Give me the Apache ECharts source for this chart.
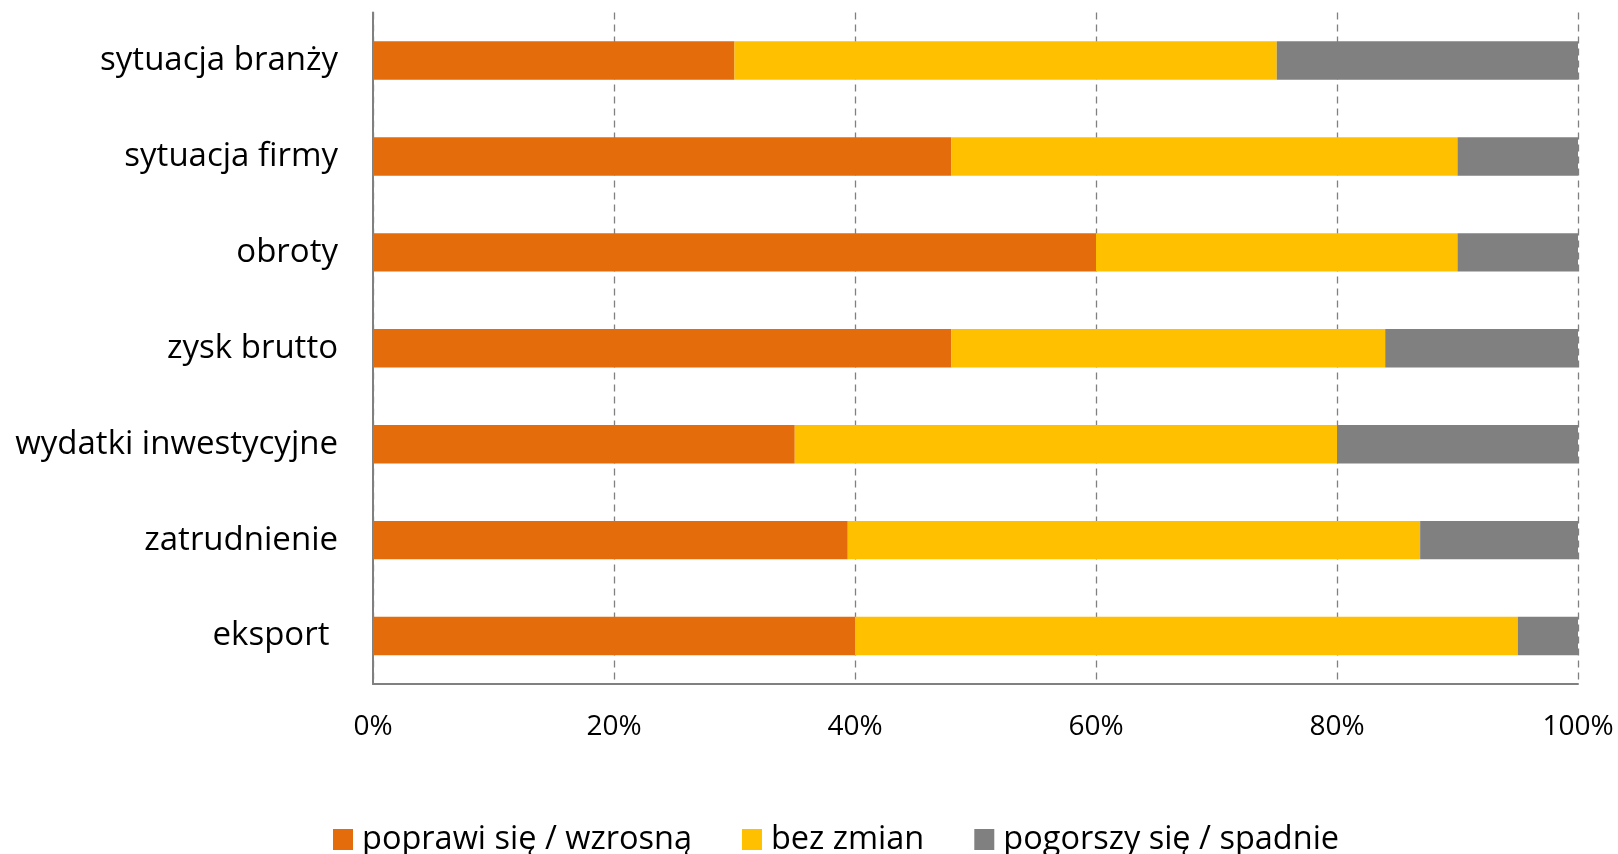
<!DOCTYPE html>
<html>
<head>
<meta charset="utf-8">
<script src="https://cdn.jsdelivr.net/npm/echarts@6/dist/echarts.min.js"></script>
<style>
html,body{margin:0;padding:0;background:#fff;}
#chart{width:1618px;height:854px;}
</style>
</head>
<body>
<div id="chart"></div>
<script>
const categories = ["sytuacja branży","sytuacja firmy","obroty","zysk brutto","wydatki inwestycyjne","zatrudnienie","eksport "];
const seriesNames = ["poprawi się / wzrosną","bez zmian","pogorszy się / spadnie"];
const improve = [30, 48, 60, 48, 35, 39.4, 40];
const noChange = [45, 42, 30, 36, 45, 47.5, 55];
const worsen = [25, 10, 10, 16, 20, 13.1, 5];
const colors = ["#E46C0A", "#FFC000", "#808080"];

const chart = echarts.init(document.getElementById('chart'));
const font = "'Open Sans', 'Noto Sans', sans-serif";
const mk = (name, data, color) => ({
  name, type: 'bar', stack: 'total', data,
  barCategoryGap: '60%',
  itemStyle: { color },
  emphasis: { disabled: true }
});
chart.setOption({
  animation: false,
  textStyle: { fontFamily: font },
  grid: { left: 373, right: 40, top: 12.6, bottom: 170, containLabel: false },
  xAxis: {
    type: 'value', min: 0, max: 100, interval: 20,
    axisLabel: { formatter: v => v + '%', fontSize: 28, color: '#000', margin: 29, fontFamily: font },
    axisLine: { show: true, lineStyle: { color: '#808080', width: 2 } },
    axisTick: { show: false },
    splitLine: { show: true, lineStyle: { color: '#808080', type: [7, 5], width: 1.3 } }
  },
  yAxis: {
    type: 'category', data: categories, inverse: true,
    axisLabel: { fontSize: 33, color: '#000', margin: 35, fontFamily: font },
    axisLine: { show: true, lineStyle: { color: '#808080', width: 2 } },
    axisTick: { show: false },
    splitLine: { show: false }
  },
  legend: {
    data: seriesNames,
    left: 328, top: 818,
    itemWidth: 20, itemHeight: 21, itemGap: 50,
    icon: 'rect',
    textStyle: { fontSize: 32.5, color: '#000', fontFamily: font, padding: [0,0,0,4] }
  },
  series: [
    mk(seriesNames[0], improve, colors[0]),
    mk(seriesNames[1], noChange, colors[1]),
    mk(seriesNames[2], worsen, colors[2])
  ]
});
</script>
</body>
</html>
